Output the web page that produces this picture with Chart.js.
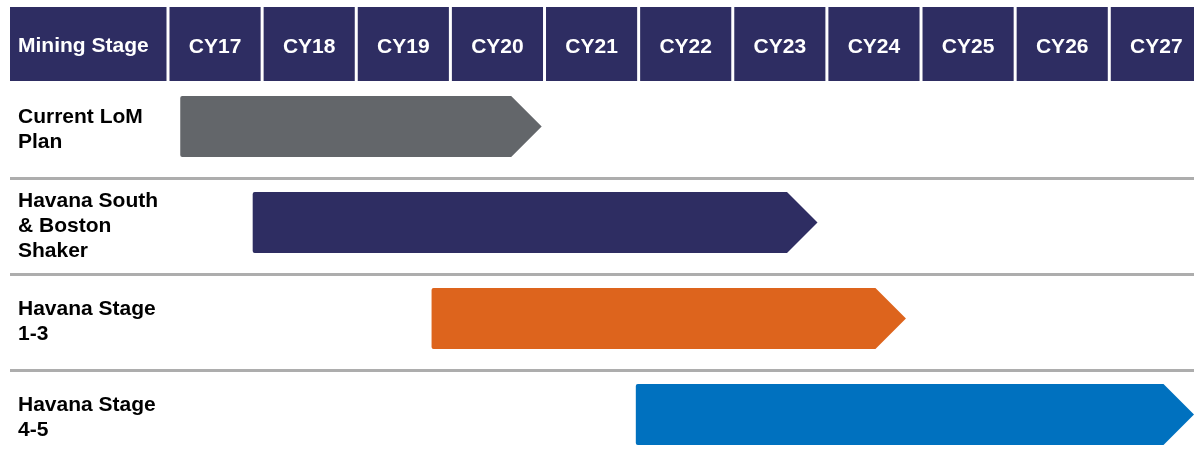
<!DOCTYPE html>
<html>
<head>
<meta charset="utf-8">
<script src="https://cdn.jsdelivr.net/npm/chart.js@4/dist/chart.umd.min.js"></script>
<style>
  html, body { margin: 0; padding: 0; background: #fff; overflow: hidden; }
</style>
</head>
<body>
<canvas id="stageChart" width="1194" height="466"></canvas>
<script>
// timeline data
const years = [17, 18, 19, 20, 21, 22, 23, 24, 25, 26, 27];
const yearLabels = ['CY17', 'CY18', 'CY19', 'CY20', 'CY21', 'CY22', 'CY23', 'CY24', 'CY25', 'CY26', 'CY27'];
const stages = [
    ['Current LoM', 'Plan'],
    ['Havana South', '& Boston', 'Shaker'],
    ['Havana Stage', '1-3'],
    ['Havana Stage', '4-5']
];
const stageStart = [17.13, 17.90, 19.80, 21.97];
const stageEnd = [20.97, 23.90, 24.84, 27.9];
const stageColors = ['#63666A', '#2E2D62', '#DD641D', '#0071BF'];

const headerColor = '#2E2D62';
const fontFamily = '"Liberation Sans", Arial, sans-serif';
const barShift = -3.5; // bars sit a bit above the row middle

// navy header cells behind the top axis labels
const headerPlugin = {
    id: 'headerCells',
    beforeDraw(chart) {
        const ctx = chart.ctx;
        const x = chart.scales.x;
        const top = x.top;
        const bottom = x.bottom - 1;
        ctx.save();
        ctx.fillStyle = headerColor;
        ctx.fillRect(10, top, x.getPixelForValue(years[0]) - 1.5 - 10, bottom - top);
        years.forEach(y => {
            const l = x.getPixelForValue(y) + 1.5;
            const r = x.getPixelForValue(y + 1) - 1.5;
            ctx.fillRect(l, top, r - l, bottom - top);
        });
        ctx.fillStyle = '#fff';
        ctx.font = 'bold 21px ' + fontFamily;
        ctx.textBaseline = 'middle';
        ctx.textAlign = 'left';
        ctx.fillText('Mining Stage', 18, x.bottom - 36);
        ctx.restore();
    }
};

// draw the bars as arrows (pentagon with 45deg tip)
const arrowPlugin = {
    id: 'arrowBars',
    beforeDatasetsDraw(chart) {
        const ctx = chart.ctx;
        const meta = chart.getDatasetMeta(0);
        ctx.save();
        meta.data.forEach((el, i) => {
            const h = el.height;
            const cy = el.y + barShift;
            const t = cy - h / 2, b = cy + h / 2;
            const l = el.base, tip = el.x;
            const body = tip - h / 2;
            const r = 2;
            ctx.fillStyle = stageColors[i];
            ctx.beginPath();
            ctx.moveTo(l + r, t);
            ctx.lineTo(body, t);
            ctx.lineTo(tip, cy);
            ctx.lineTo(body, b);
            ctx.lineTo(l + r, b);
            ctx.quadraticCurveTo(l, b, l, b - r);
            ctx.lineTo(l, t + r);
            ctx.quadraticCurveTo(l, t, l + r, t);
            ctx.closePath();
            ctx.fill();
        });
        ctx.restore();
        return false;
    }
};

new Chart(document.getElementById('stageChart'), {
    type: 'bar',
    data: {
        labels: stages,
        datasets: [{
            data: stages.map((s, i) => [stageStart[i], stageEnd[i]]),
            backgroundColor: stageColors,
            barThickness: 61
        }]
    },
    options: {
        indexAxis: 'y',
        responsive: false,
        animation: false,
        layout: { padding: { top: 7, left: 18, right: 0, bottom: 0 } },
        plugins: { legend: { display: false }, tooltip: { enabled: false } },
        scales: {
            x: {
                type: 'linear',
                position: 'top',
                min: 17,
                max: 27.9,
                afterFit(scale) {
                    scale.height = 75;
                    scale.paddingLeft = 0;
                    scale.paddingRight = 0;
                },
                afterBuildTicks(scale) {
                    scale.ticks = years.map(y => ({ value: y + 0.5 }));
                },
                grid: { display: false, drawTicks: false },
                border: { display: false },
                ticks: {
                    autoSkip: false,
                    maxRotation: 0,
                    padding: 22,
                    color: '#fff',
                    font: { family: fontFamily, size: 21, weight: 'bold' },
                    callback: (value, index) => yearLabels[index]
                }
            },
            y: {
                afterFit(scale) {
                    scale.width = 150;
                    scale.paddingTop = 0;
                    scale.paddingBottom = 0;
                },
                grid: {
                    offset: true,
                    lineWidth: 3,
                    tickLength: 158,
                    color: c => c.index === 0 ? 'rgba(0,0,0,0)' : '#ADADAD'
                },
                border: { display: false },
                ticks: {
                    crossAlign: 'far',
                    color: '#000',
                    font: { family: fontFamily, size: 21, weight: 'bold', lineHeight: 1.2 }
                }
            }
        }
    },
    plugins: [headerPlugin, arrowPlugin]
});
</script>
</body>
</html>
